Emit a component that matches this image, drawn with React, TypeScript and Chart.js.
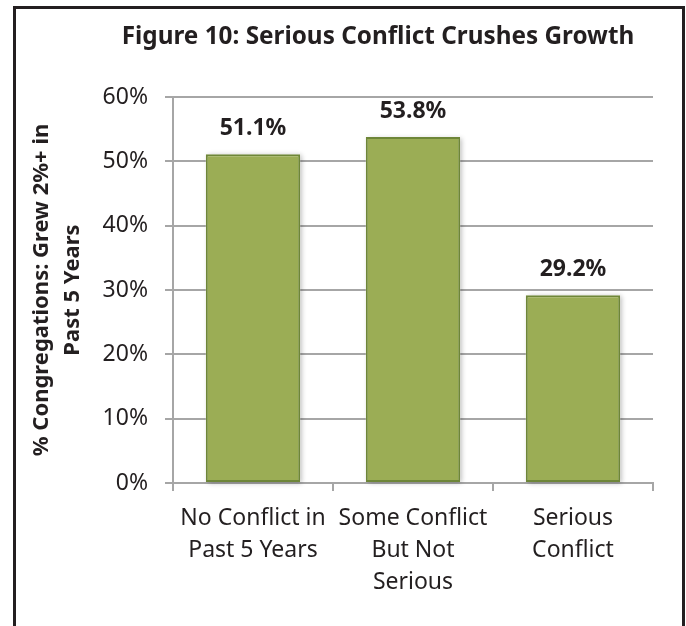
import React, { useEffect, useRef } from "react";
import { Chart, registerables } from "chart.js";

Chart.register(...registerables);

// ---- data ----
const categories: string[][] = [
  ["No Conflict in", "Past 5 Years"],
  ["Some Conflict", "But Not", "Serious"],
  ["Serious", "Conflict"],
];
const values: number[] = [51.1, 53.8, 29.2];
const yMin = 0;
const yMax = 60;
const yStep = 10;
const chartTitle = "Figure 10: Serious Conflict Crushes Growth";
const yAxisTitle: string[] = ["% Congregations: Grew 2%+ in", "Past 5 Years"];

// ---- styles ----
const FONT = "'Noto Sans', 'Open Sans', sans-serif";
const TEXT = "#231F20";
const GRID = "#A6A6A6";
const BAR_FILL = "#9BAD55";
const BAR_BORDER = "#6E8638";

const titlePlugin = {
  id: "figTitle",
  afterDraw(chart: any) {
    const opts = chart.options.plugins.figTitle;
    const ctx = chart.ctx;
    ctx.save();
    ctx.font = `bold 24.3px ${FONT}`;
    ctx.fillStyle = TEXT;
    ctx.textAlign = "center";
    ctx.textBaseline = "middle";
    ctx.fillText(opts.text, opts.x, opts.y);
    ctx.restore();
  },
};

const shadowPlugin = {
  id: "barShadow",
  beforeDatasetsDraw(chart: any) {
    const ctx = chart.ctx;
    const meta = chart.getDatasetMeta(0);
    ctx.save();
    ctx.shadowColor = "rgba(0,0,0,0.28)";
    ctx.shadowBlur = 5;
    ctx.shadowOffsetX = 2;
    ctx.shadowOffsetY = 1;
    ctx.fillStyle = "#ffffff";
    meta.data.forEach((bar: any) => {
      const left = bar.x - bar.width / 2;
      ctx.fillRect(left, bar.y, bar.width, bar.base - bar.y);
    });
    ctx.restore();
  },
};

const labelPlugin = {
  id: "barLabels",
  afterDatasetsDraw(chart: any) {
    const ctx = chart.ctx;
    const meta = chart.getDatasetMeta(0);
    const data = chart.data.datasets[0].data as number[];
    ctx.save();
    ctx.font = `bold 23px ${FONT}`;
    ctx.fillStyle = TEXT;
    ctx.textAlign = "center";
    ctx.textBaseline = "alphabetic";
    meta.data.forEach((bar: any, i: number) => {
      ctx.fillText(data[i].toFixed(1) + "%", bar.x, bar.y - 19);
    });
    ctx.restore();
  },
};

export default function App() {
  const ref = useRef<HTMLCanvasElement | null>(null);

  useEffect(() => {
    if (!ref.current) return;
    Chart.defaults.font.family = FONT;
    const chart = new Chart(ref.current, {
      type: "bar",
      data: {
        labels: categories,
        datasets: [
          {
            data: values,
            backgroundColor: BAR_FILL,
            borderColor: BAR_BORDER,
            borderWidth: 2,
            borderSkipped: false,
            barPercentage: 0.59,
            categoryPercentage: 1.0,
          },
        ],
      },
      options: {
        responsive: false,
        animation: false,
        events: [],
        layout: { padding: { top: 88, right: 29, left: 0, bottom: 0 } },
        plugins: {
          legend: { display: false },
          tooltip: { enabled: false },
          title: { display: false },
          figTitle: { text: chartTitle, x: 362, y: 28 },
        } as any,
        scales: {
          x: {
            offset: true,
            grid: {
              display: true,
              drawOnChartArea: false,
              drawTicks: true,
              tickLength: 8,
              color: GRID,
              lineWidth: 2,
              offset: true,
            },
            border: { display: true, color: GRID, width: 2 },
            ticks: {
              color: TEXT,
              font: { size: 23, lineHeight: 1.4 },
              padding: 11,
              maxRotation: 0,
              minRotation: 0,
              autoSkip: false,
            },
            afterFit: (s: any) => {
              s.height = 143;
            },
          },
          y: {
            min: yMin,
            max: yMax,
            ticks: {
              stepSize: yStep,
              callback: (v: any) => v + "%",
              color: TEXT,
              font: { size: 23 },
              padding: 17,
            },
            grid: { color: GRID, lineWidth: 2, tickLength: 8, drawTicks: true },
            border: { display: true, color: GRID, width: 2 },
            title: {
              display: true,
              text: yAxisTitle,
              color: TEXT,
              font: { size: 22, weight: "bold", lineHeight: 1.4 },
              padding: { top: 10.5, bottom: 0 },
            },
            afterFit: (s: any) => {
              s.width = 157;
            },
          },
        },
      },
      plugins: [titlePlugin, shadowPlugin, labelPlugin],
    });
    return () => chart.destroy();
  }, []);

  return (
    <div
      style={{
        position: "absolute",
        left: 13,
        top: 6,
        width: 672,
        height: 620,
        boxSizing: "border-box",
        borderTop: "3px solid #231F20",
        borderLeft: "3px solid #231F20",
        borderRight: "3px solid #231F20",
        background: "#ffffff",
        overflow: "hidden",
      }}
    >
      <canvas ref={ref} width={666} height={617} style={{ display: "block" }} />
    </div>
  );
}
